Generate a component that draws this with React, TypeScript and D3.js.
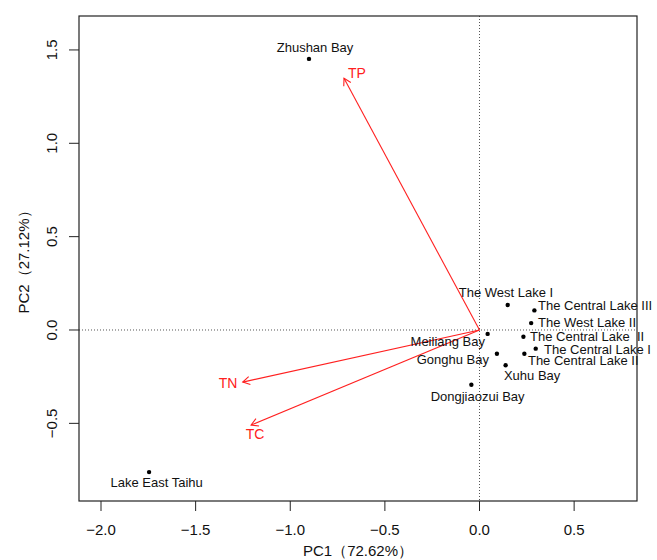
import React from "react";
import * as d3 from "d3";

const W = 657;
const H = 560;

// Site scores (PC1, PC2)
const siteNames = [
  "Zhushan Bay",
  "Lake East Taihu",
  "The West Lake I",
  "The Central Lake III",
  "The West Lake II",
  "Meiliang Bay",
  "The Central Lake  II",
  "The Central Lake I",
  "Gonghu Bay",
  "The Central Lake II",
  "Xuhu Bay",
  "Dongjiaozui Bay",
];
const siteX = [-0.901, -1.746, 0.149, 0.29, 0.273, 0.043, 0.232, 0.297, 0.092, 0.237, 0.138, -0.043];
const siteY = [1.452, -0.761, 0.134, 0.105, 0.037, -0.021, -0.036, -0.1, -0.127, -0.127, -0.189, -0.293];
// label anchor points (data units) and alignment
const siteLabelX = [-0.869, -1.706, 0.14, 0.309, 0.309, 0.029, 0.267, 0.341, 0.05, 0.256, 0.129, -0.01];
const siteLabelY = [1.514, -0.816, 0.2, 0.134, 0.039, -0.059, -0.036, -0.103, -0.157, -0.164, -0.241, -0.354];
const siteLabelAnchor = ["middle", "middle", "middle", "start", "start", "end", "start", "start", "end", "start", "start", "middle"];

// Variable loadings (arrows)
const varNames = ["TP", "TN", "TC"];
const varX = [-0.716, -1.251, -1.207];
const varY = [1.348, -0.279, -0.509];
const varLabelX = [-0.648, -1.329, -1.186];
const varLabelY = [1.378, -0.282, -0.559];

const xTicks = [-2.0, -1.5, -1.0, -0.5, 0.0, 0.5];
const yTicks = [-0.5, 0.0, 0.5, 1.0, 1.5];
const xTitle = "PC1（72.62%）";
const yTitle = "PC2（27.12%）";

const FONT = "'Liberation Sans', Arial, sans-serif";

export default function App() {
  const left = 79, right = 637, top = 16, bottom = 501;
  const x = d3.scaleLinear().domain([-2.1163, 0.8322]).range([left, right]);
  const y = d3.scaleLinear().domain([1.6818, -0.9159]).range([top, bottom]);
  const fmt = d3.format(".1f");
  const fmtTick = (v: number) => fmt(v).replace("-", "−");

  const arrowHead = (x0: number, y0: number, x1: number, y1: number) => {
    const ang = Math.atan2(y1 - y0, x1 - x0);
    const len = 8;
    const a = Math.PI / 6;
    const p1 = [x1 - len * Math.cos(ang - a), y1 - len * Math.sin(ang - a)];
    const p2 = [x1 - len * Math.cos(ang + a), y1 - len * Math.sin(ang + a)];
    return `M${p1[0]},${p1[1]}L${x1},${y1}L${p2[0]},${p2[1]}`;
  };

  return (
    <svg width={W} height={H} style={{ position: "absolute", left: 0, top: 0, background: "#fff" }} fontFamily={FONT}>
      {/* zero lines */}
      <line x1={left} x2={right} y1={y(0)} y2={y(0)} stroke="#555" strokeWidth={1} strokeDasharray="1,2" />
      <line x1={x(0)} x2={x(0)} y1={top} y2={bottom} stroke="#555" strokeWidth={1} strokeDasharray="1,2" />

      {/* arrows */}
      {varNames.map((n, i) => {
        const x0 = x(0), y0 = y(0), x1 = x(varX[i]), y1 = y(varY[i]);
        return (
          <g key={n} stroke="#ff2020" strokeWidth={1.1} fill="none">
            <line x1={x0} y1={y0} x2={x1} y2={y1} />
            <path d={arrowHead(x0, y0, x1, y1)} />
          </g>
        );
      })}
      {varNames.map((n, i) => (
        <text key={n} x={x(varLabelX[i])} y={y(varLabelY[i])} dy="0.35em" textAnchor="middle" fill="#ff2020" fontSize={14}>
          {n}
        </text>
      ))}

      {/* sites */}
      {siteNames.map((n, i) => (
        <circle key={"p" + i} cx={x(siteX[i])} cy={y(siteY[i])} r={2.2} fill="#000" />
      ))}
      {siteNames.map((n, i) => (
        <text
          key={"t" + i}
          x={x(siteLabelX[i])}
          y={y(siteLabelY[i])}
          dy="0.35em"
          textAnchor={siteLabelAnchor[i] as any}
          fontSize={13}
          fill="#111"
          style={{ whiteSpace: "pre" }}
        >
          {n}
        </text>
      ))}

      {/* box */}
      <rect x={left} y={top} width={right - left} height={bottom - top} fill="none" stroke="#222" strokeWidth={1.2} />

      {/* x axis */}
      {xTicks.map((t) => (
        <g key={"xt" + t}>
          <line x1={x(t)} x2={x(t)} y1={bottom} y2={bottom + 10} stroke="#222" />
          <text x={x(t)} y={bottom + 34} textAnchor="middle" fontSize={15} fill="#111">
            {fmtTick(t)}
          </text>
        </g>
      ))}
      <text x={(left + right) / 2} y={556} textAnchor="middle" fontSize={15} fill="#111">
        {xTitle}
      </text>

      {/* y axis */}
      {yTicks.map((t) => (
        <g key={"yt" + t}>
          <line x1={left - 10} x2={left} y1={y(t)} y2={y(t)} stroke="#222" />
          <text transform={`translate(${left - 22},${y(t)}) rotate(-90)`} textAnchor="middle" fontSize={15} fill="#111">
            {fmtTick(t)}
          </text>
        </g>
      ))}
      <text transform={`translate(29,${(top + bottom) / 2}) rotate(-90)`} textAnchor="middle" fontSize={15} fill="#111">
        {yTitle}
      </text>
    </svg>
  );
}
